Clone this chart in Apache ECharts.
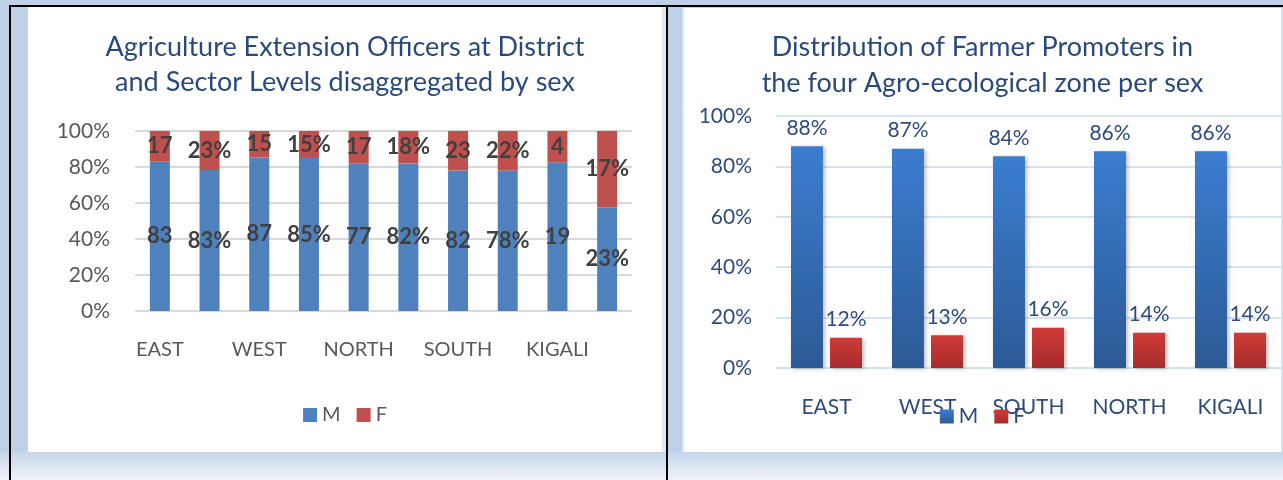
<!DOCTYPE html>
<html>
<head>
<meta charset="utf-8">
<script src="https://cdn.jsdelivr.net/npm/echarts@6/dist/echarts.min.js"></script>
<style>
body { margin: 0; width: 1283px; height: 480px; overflow: hidden; background: #bfd1e7; position: relative; }
.bottomBand { position: absolute; left: 0; top: 452px; width: 1283px; height: 28px; background: linear-gradient(to bottom, #c6d6ea, #f0f4f9); }
.line { position: absolute; background: #000; }
.gap { position: absolute; left: 662px; top: 7px; width: 4px; height: 445px; background: #dfe7f1; }
.gapEdge { position: absolute; left: 682px; top: 7px; width: 2px; height: 445px; background: #dce7f4; }
#leftChart { position: absolute; left: 27px; top: 7px; width: 634px; height: 445px; background: #fff; border-left: 1px solid #d0d0d0; border-bottom: 1px solid #d0d0d0; }
#rightChart { position: absolute; left: 684px; top: 8px; width: 597px; height: 444px; background: #fff; border-right: 2px solid #d7e3f1; }
</style>
</head>
<body>
<div class="bottomBand"></div>
<div class="gap"></div>
<div class="gapEdge"></div>
<div id="leftChart"></div>
<div id="rightChart"></div>
<div class="line" style="left:9px;top:5px;width:1274px;height:2px"></div>
<div class="line" style="left:9px;top:5px;width:2px;height:475px"></div>
<div class="line" style="left:666px;top:5px;width:2px;height:475px"></div>

<script>
// left chart: district / sector pairs per region (raw counts, shown as 100% stacked)
const leftCats = ['EAST', '', 'WEST', '', 'NORTH', '', 'SOUTH', '', 'KIGALI', '']
const leftM = [83, 83, 87, 85, 77, 82, 82, 78, 19, 23]
const leftF = [17, 23, 15, 15, 17, 18, 23, 22, 4, 17]
const leftUnit = ['', '%', '', '%', '', '%', '', '%', '', '%']

// right chart: farmer promoters per zone (%)
const rightCats = ['EAST', 'WEST', 'SOUTH', 'NORTH', 'KIGALI']
const rightM = [88, 87, 84, 86, 86]
const rightF = [12, 13, 16, 14, 14]

const yTicks = [0, 20, 40, 60, 80, 100]
const font = 'Lato'

function drawLeft () {
  const myChart = echarts.init(document.getElementById('leftChart'))
  const share = (a, b) => a.map((v, i) => v / (v + b[i]) * 100)
  const label = (raw) => ({
    show: true,
    position: 'inside',
    fontFamily: font,
    fontSize: 22,
    fontWeight: 'bold',
    color: '#404040',
    formatter: p => raw[p.dataIndex] + leftUnit[p.dataIndex]
  })
  const option = {
    animation: false,
    title: {
      text: 'Agriculture Extension Officers at District\nand Sector Levels disaggregated by sex',
      left: 'center',
      top: 23,
      padding: 0,
      textStyle: { fontFamily: font, fontSize: 27, fontWeight: 'normal', color: '#2a4a7b', lineHeight: 35 }
    },
    legend: {
      top: 393,
      left: 'center',
      itemWidth: 14,
      itemHeight: 14,
      itemGap: 16,
      icon: 'rect',
      textStyle: { fontFamily: font, fontSize: 20, color: '#595959' },
      data: ['M', 'F']
    },
    grid: { left: 107, top: 124, width: 497, height: 180 },
    xAxis: {
      type: 'category',
      data: leftCats,
      axisTick: { show: false },
      axisLine: { show: false },
      axisLabel: { interval: 0, margin: 29, fontFamily: font, fontSize: 20, color: '#595959' }
    },
    yAxis: {
      type: 'value',
      min: yTicks[0],
      max: yTicks[yTicks.length - 1],
      interval: 20,
      axisTick: { show: false },
      axisLine: { show: false },
      axisLabel: { margin: 25, fontFamily: font, fontSize: 21, color: '#595959', formatter: '{value}%' },
      splitLine: { lineStyle: { color: '#d9d9d9', width: 2 } }
    },
    series: [{
      name: 'M',
      type: 'bar',
      stack: 'all',
      barWidth: 20,
      data: share(leftM, leftF),
      itemStyle: { color: '#4f81bd' },
      label: label(leftM)
    }, {
      name: 'F',
      type: 'bar',
      stack: 'all',
      barWidth: 20,
      data: share(leftF, leftM),
      itemStyle: { color: '#c0504d' },
      label: label(leftF)
    }]
  }
  myChart.setOption(option)
}

function drawRight () {
  const myChart = echarts.init(document.getElementById('rightChart'))
  const grad = (top, bottom) => new echarts.graphic.LinearGradient(0, 0, 0, 1, [
    { offset: 0, color: top },
    { offset: 1, color: bottom }
  ])
  const barStyle = (c) => ({
    color: c,
    shadowColor: 'rgba(0,0,0,0.25)',
    shadowBlur: 4,
    shadowOffsetX: 2,
    shadowOffsetY: 1
  })
  const label = {
    show: true,
    position: 'top',
    distance: 8,
    fontFamily: font,
    fontSize: 21,
    color: '#2f4b7c',
    formatter: '{c}%'
  }
  const option = {
    animation: false,
    title: {
      text: 'Distribution of Farmer Promoters in\nthe four Agro-ecological zone per sex',
      left: 'center',
      top: 21,
      padding: 0,
      textStyle: { fontFamily: font, fontSize: 27, fontWeight: 'normal', color: '#2a4a7b', lineHeight: 36 }
    },
    legend: {
      top: 393,
      left: 'center',
      itemWidth: 14,
      itemHeight: 14,
      itemGap: 16,
      icon: 'rect',
      textStyle: { fontFamily: font, fontSize: 21, color: '#2f4b7c' },
      data: ['M', 'F']
    },
    grid: { left: 92, top: 108, width: 506, height: 252 },
    xAxis: {
      type: 'category',
      data: rightCats,
      axisTick: { show: false },
      axisLine: { show: false },
      axisLabel: { interval: 0, margin: 29, fontFamily: font, fontSize: 21, color: '#2f4b7c' }
    },
    yAxis: {
      type: 'value',
      min: yTicks[0],
      max: yTicks[yTicks.length - 1],
      interval: 20,
      axisTick: { show: false },
      axisLine: { show: false },
      axisLabel: { margin: 24, fontFamily: font, fontSize: 21, color: '#2f4b7c', formatter: '{value}%' },
      splitLine: { lineStyle: { color: '#d6e2f1', width: 2 } }
    },
    series: [{
      name: 'M',
      type: 'bar',
      barWidth: 32,
      barGap: '22%',
      data: rightM,
      itemStyle: barStyle(grad('#3b7dd0', '#2c5a96')),
      label: label
    }, {
      name: 'F',
      type: 'bar',
      barWidth: 32,
      data: rightF,
      itemStyle: barStyle(grad('#d03b38', '#a52c2b')),
      label: label
    }]
  }
  myChart.setOption(option)
}

drawLeft()
drawRight()
</script>
</body>
</html>
